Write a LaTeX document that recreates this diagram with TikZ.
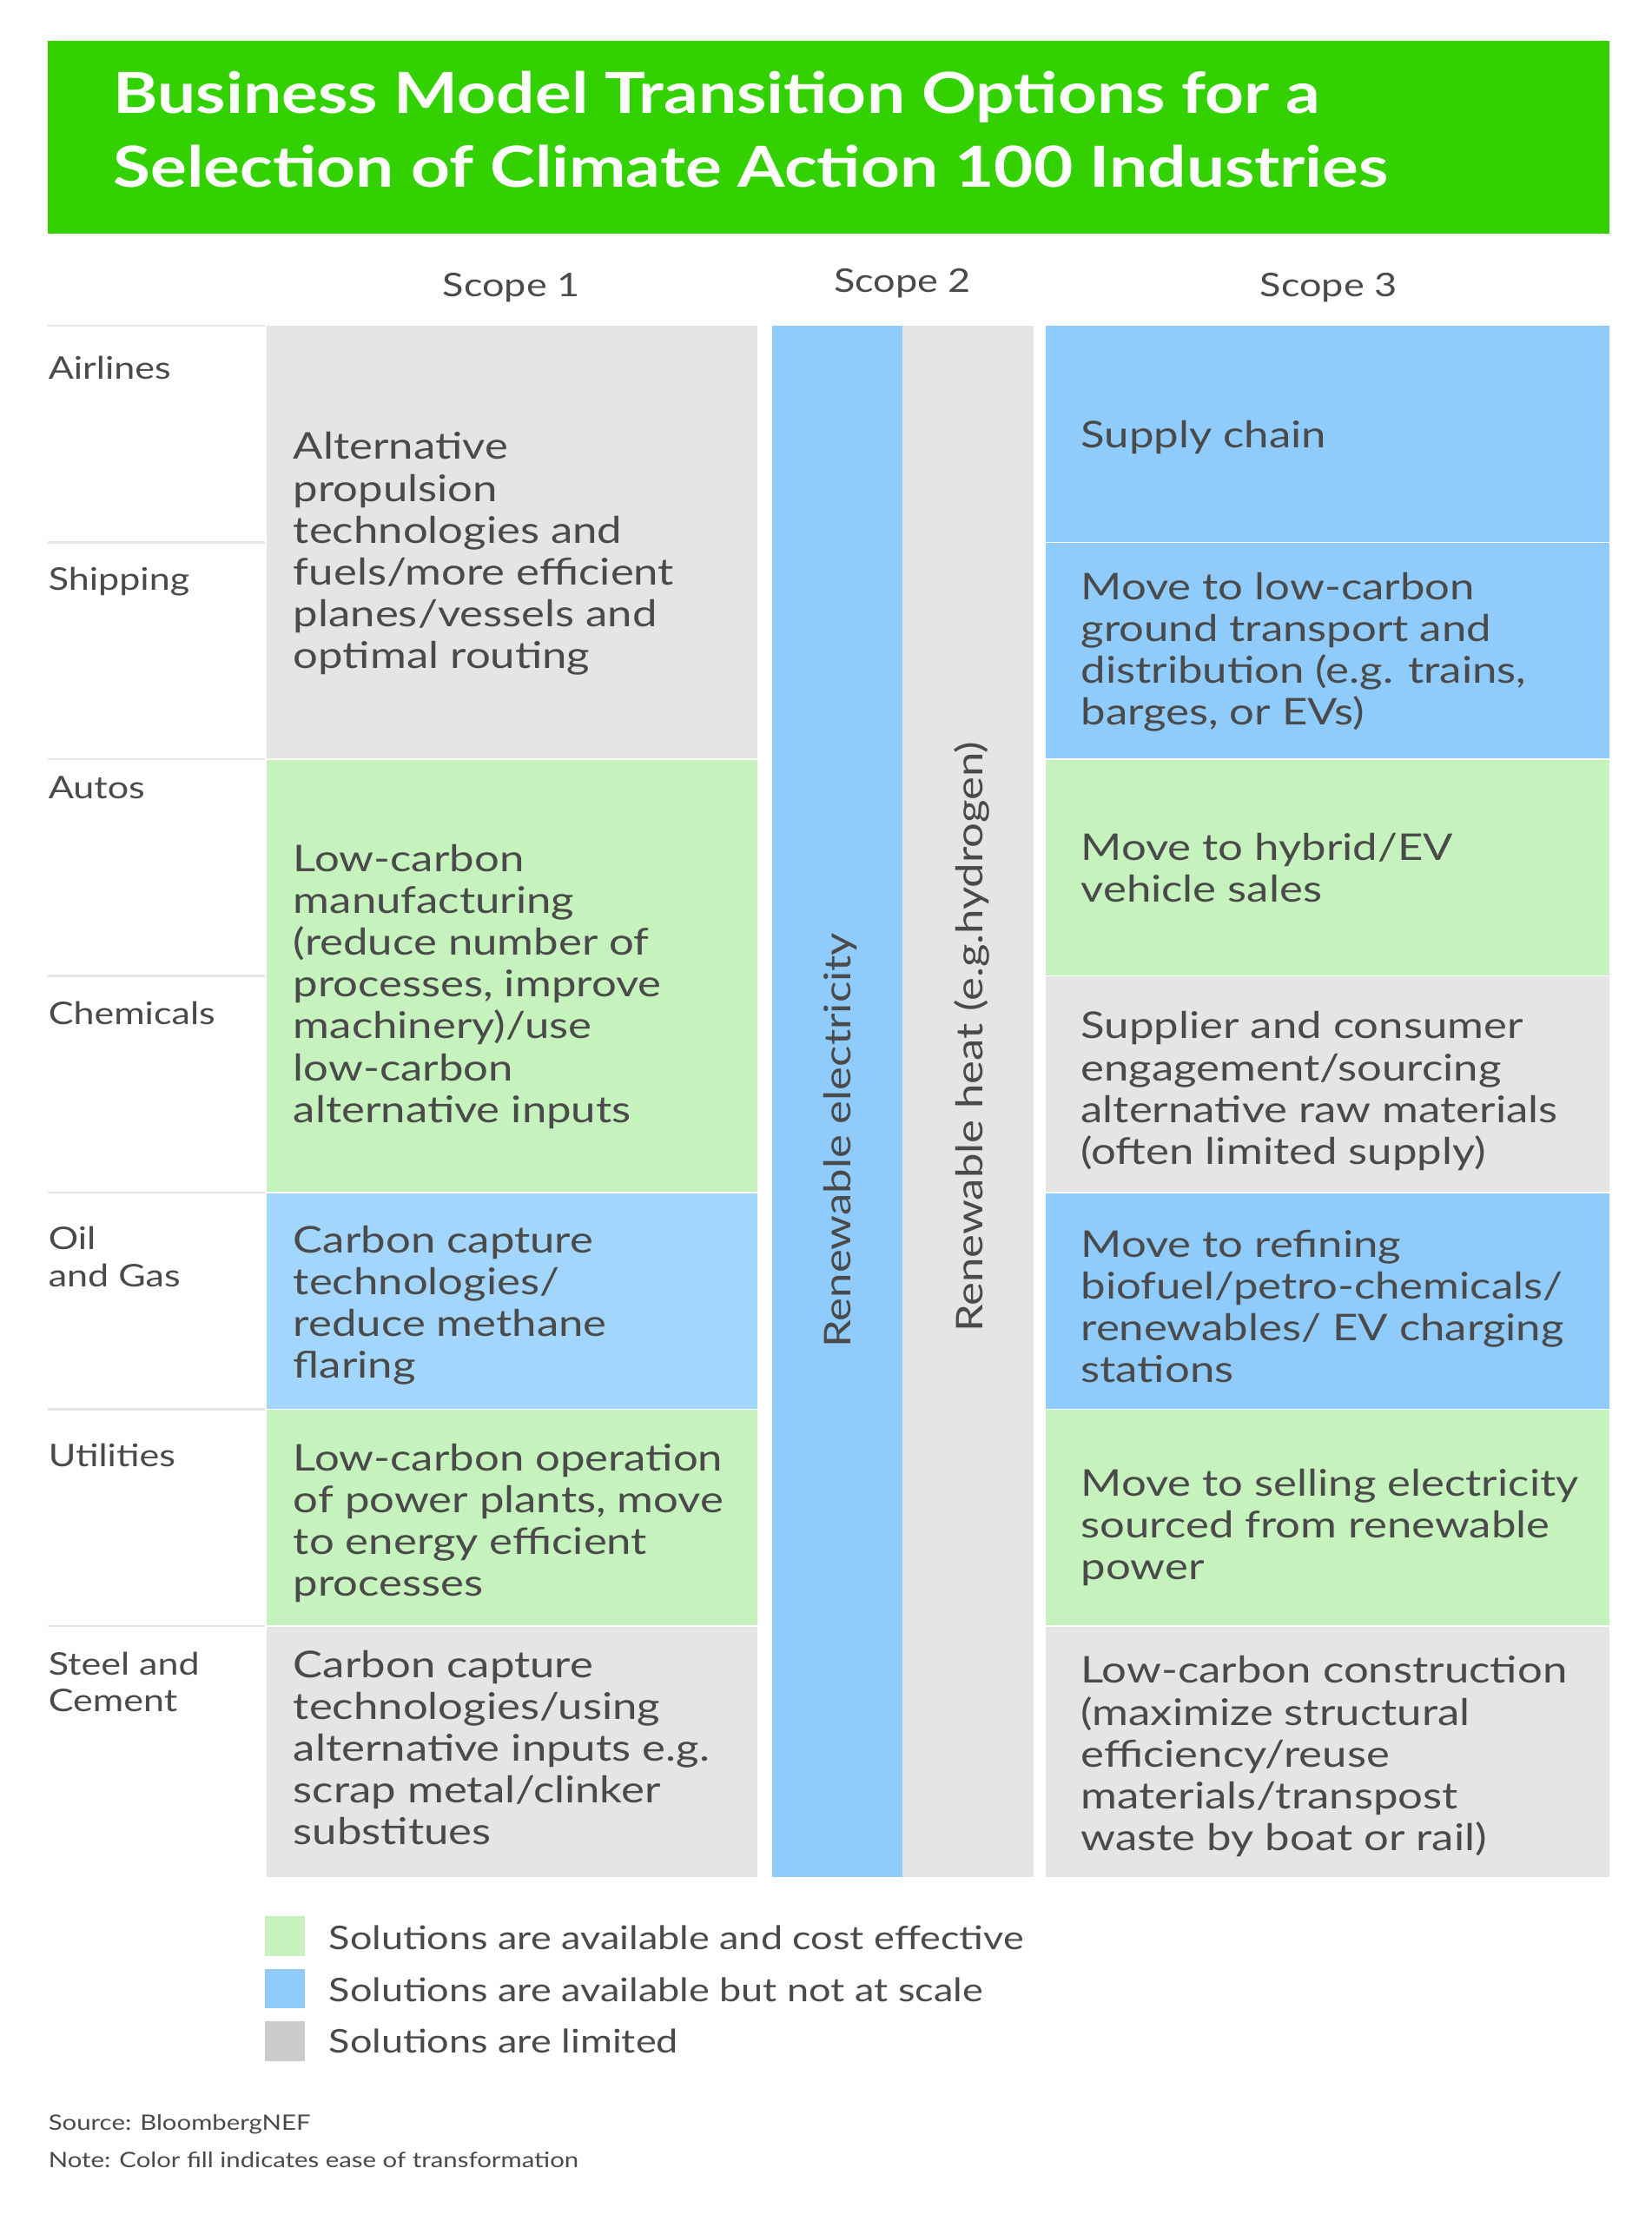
\documentclass[tikz,border=0pt]{standalone}
\usepackage{fontspec}
\setmainfont{Lato}[FakeStretch=1.2]
\begin{document}
\begin{tikzpicture}[x=1pt,y=-1pt,
  txt/.style={text=tc,align=left,anchor=north west,inner sep=0pt,yshift=-3pt,font=\fontsize{26}{29.5}\selectfont},
  lab/.style={text=tc,align=left,anchor=north west,inner sep=0pt,yshift=-3pt,font=\fontsize{22}{26}\selectfont},
  key/.style={text=tc,anchor=west,inner sep=0pt,font=\fontsize{23}{26}\selectfont},
  foot/.style={text=tc,anchor=west,inner sep=0pt,font=\fontsize{15}{18}\selectfont},
  hdr/.style={text=tc,inner sep=0pt,font=\fontsize{23}{26}\selectfont}]
\definecolor{tg}{HTML}{33D100}
\definecolor{cg}{HTML}{E5E5E5}
\definecolor{cgr}{HTML}{C6F2BD}
\definecolor{cb}{HTML}{8FCBFB}
\definecolor{cb2}{HTML}{A3D6FC}
\definecolor{lg}{HTML}{CCCCCC}
\definecolor{tc}{HTML}{4A4A4A}
\useasboundingbox[fill=white] (0,0) rectangle (1166,1568);
\fill[tg] (34,29) rectangle (1136,165);
\node[anchor=north west,inner sep=0pt,text=white,align=left,font=\bfseries\fontsize{40}{52}\selectfont] (title) at (80,50) {Business Model Transition Options for a\\Selection of Climate Action 100 Industries};
\node[hdr] (s1) at (361,203) {Scope 1};
\node[hdr] (s2) at (637,200) {Scope 2};
\node[hdr] (s3) at (938,203) {Scope 3};
% row lines
\foreach \y in {230,383,536,689,842,995,1148} \draw[cg,line width=1.5pt] (34,\y) -- (187,\y);
% scope1
\fill[cg] (188,230) rectangle (535,536);
\fill[cgr] (188,536) rectangle (535,842);
\fill[cb2] (188,842) rectangle (535,995);
\fill[cgr] (188,995) rectangle (535,1148);
\fill[cg] (188,1148) rectangle (535,1325);
\draw[white,line width=1pt] (188,536)--(535,536) (188,842)--(535,842) (188,995)--(535,995) (188,1148)--(535,1148);
% scope2
\fill[cb] (545,230) rectangle (637,1325);
\fill[cg] (637,230) rectangle (730,1325);
\node[hdr,rotate=90,font=\fontsize{26}{30}\selectfont] (re) at (593,805) {Renewable electricity};
\node[hdr,rotate=90,font=\fontsize{26}{30}\selectfont] (rh) at (686,732) {Renewable heat (e.g.hydrogen)};
% scope3
\fill[cb] (738,230) rectangle (1136,536);
\fill[cgr] (738,536) rectangle (1136,689);
\fill[cg] (738,689) rectangle (1136,842);
\fill[cb] (738,842) rectangle (1136,995);
\fill[cgr] (738,995) rectangle (1136,1148);
\fill[cg] (738,1148) rectangle (1136,1325);
\foreach \y in {383,536,689,842,995,1148} \draw[white,line width=1pt] (738,\y) -- (1136,\y);
% labels
\node[lab] (l1) at (34,248) {Airlines};
\node[lab] (l2) at (34,397) {Shipping};
\node[lab] (l3) at (34,545) {Autos};
\node[lab] (l4) at (34,704) {Chemicals};
\node[lab] (l5) at (34,863) {Oil\\and Gas};
\node[lab] (l6) at (34,1016) {Utilities};
\node[lab] (l7) at (34,1163) {Steel and\\Cement};
% scope1 text
\node[txt] (a1) at (207,302) {Alternative\\propulsion\\technologies and\\fuels/more efficient\\planes/vessels and\\optimal routing};
\node[txt] (a2) at (207,593) {Low-carbon\\manufacturing\\(reduce number of\\processes, improve\\machinery)/use\\low-carbon\\alternative inputs};
\node[txt] (a3) at (207,862) {Carbon capture\\technologies/\\reduce methane\\flaring};
\node[txt] (a4) at (207,1016) {Low-carbon operation\\of power plants, move\\to energy efficient\\processes};
\node[txt] (a5) at (207,1162) {Carbon capture\\technologies/using\\alternative inputs e.g.\\scrap metal/clinker\\substitues};
% scope3 text
\node[txt] (b1) at (763,294) {Supply chain};
\node[txt] (b2) at (763,401) {Move to low-carbon\\ground transport and\\distribution (e.g. trains,\\barges, or EVs)};
\node[txt] (b3) at (763,585) {Move to hybrid/EV\\vehicle sales};
\node[txt] (b4) at (763,711) {Supplier and consumer\\engagement/sourcing\\alternative raw materials\\(often limited supply)};
\node[txt] (b5) at (763,865) {Move to refining\\biofuel/petro-chemicals/\\renewables/ EV charging\\stations};
\node[txt] (b6) at (763,1034) {Move to selling electricity\\sourced from renewable\\power};
\node[txt] (b7) at (763,1166) {Low-carbon construction\\(maximize structural\\efficiency/reuse\\materials/transpost\\waste by boat or rail)};
% legend
\fill[cgr] (187,1353) rectangle (215,1381);
\fill[cb] (187,1390) rectangle (215,1418);
\fill[lg] (187,1427) rectangle (215,1455);
\node[key] (k1) at (232,1368) {Solutions are available and cost effective};
\node[key] (k2) at (232,1405) {Solutions are available but not at scale};
\node[key] (k3) at (232,1441) {Solutions are limited};
\node[foot] (src) at (34,1500) {Source: BloombergNEF};
\node[foot] (note) at (34,1525) {Note: Color fill indicates ease of transformation};
\end{tikzpicture}
\end{document}
